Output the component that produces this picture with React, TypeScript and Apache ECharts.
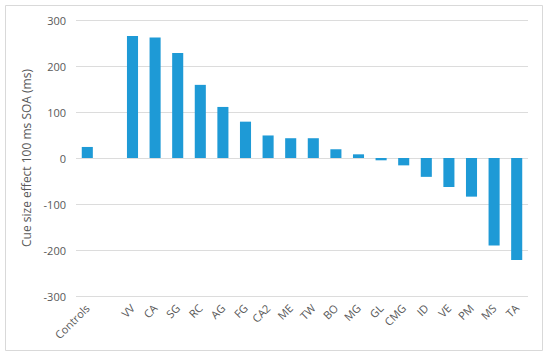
import React, { useEffect, useRef } from "react";
import * as echarts from "echarts";

const categories = ["Controls", "", "VV", "CA", "SG", "RC", "AG", "FG", "CA2", "ME", "TW", "BO", "MG", "GL", "CMG", "ID", "VE", "PM", "MS", "TA"];
const values: (number | string)[] = [24, "-", 265, 262, 228, 159, 111, 79, 49, 43, 43, 19, 8, -5, -16, -41, -63, -84, -190, -222];
const yTicks = { min: -300, max: 300, interval: 100 };
const yName = "Cue size effect 100 ms SOA (ms)";

export default function App() {
  const ref = useRef<HTMLDivElement>(null);
  useEffect(() => {
    const chart = echarts.init(ref.current!, null, { renderer: "svg" });
    const font = "Open Sans";
    chart.setOption({
      animation: false,
      graphic: [
        {
          type: "rect",
          shape: { x: 5.5, y: 5.5, width: 537, height: 345 },
          style: { fill: "none", stroke: "#d9d9d9", lineWidth: 1 },
          silent: true,
        },
      ],
      grid: { left: 76, right: 22, top: 20, bottom: 60 },
      xAxis: {
        type: "category",
        data: categories,
        axisLine: { show: false, onZero: false },
        axisTick: { show: false },
        axisLabel: { interval: 0, rotate: 45, color: "#595959", fontFamily: font, fontSize: 11, margin: 10 },
      },
      yAxis: {
        type: "value",
        min: yTicks.min,
        max: yTicks.max,
        interval: yTicks.interval,
        name: yName,
        nameLocation: "middle",
        nameRotate: 90,
        nameGap: 43,
        nameTextStyle: { color: "#595959", fontFamily: font, fontSize: 12 },
        axisLine: { show: false },
        axisTick: { show: false },
        axisLabel: { color: "#595959", fontFamily: font, fontSize: 11, margin: 10 },
        splitLine: { lineStyle: { color: "#dcdcdc", width: 1 } },
      },
      series: [
        {
          type: "bar",
          data: values,
          barWidth: "49%",
          itemStyle: { color: "#1e9ad6" },
        },
      ],
    });
    return () => chart.dispose();
  }, []);
  return <div ref={ref} style={{ width: 550, height: 356, position: "absolute", left: 0, top: 0, background: "#fff" }} />;
}
